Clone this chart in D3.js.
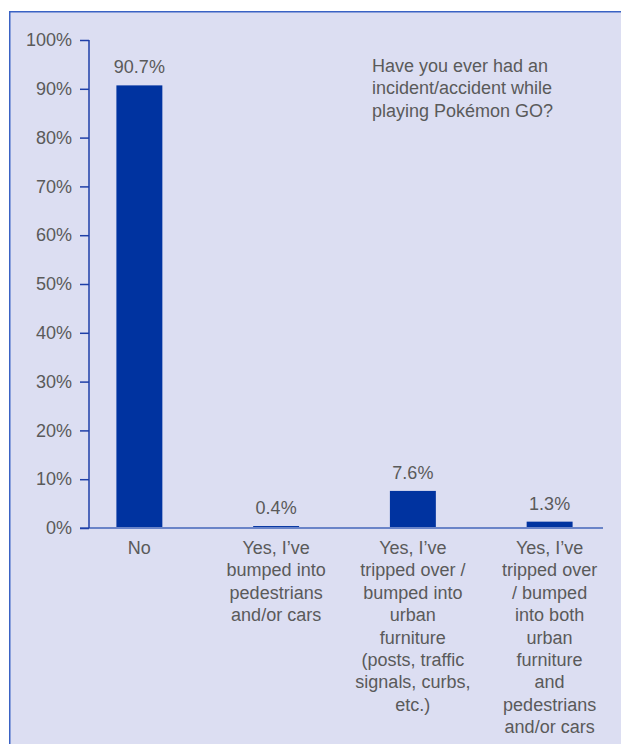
<!DOCTYPE html>
<html>
<head>
<meta charset="utf-8">
<script src="https://cdn.jsdelivr.net/npm/d3@7"></script>
<style>
  html, body { margin: 0; padding: 0; background: #ffffff; }
  svg { display: block; }
  text { font-family: "Liberation Sans", Arial, sans-serif; fill: #5a5a5a; }
</style>
</head>
<body>
<svg id="chart" width="621" height="744"></svg>
<script>
// Survey answers and shares (%)
const categories = [
  ["No"],
  ["Yes, I’ve", "bumped into", "pedestrians", "and/or cars"],
  ["Yes, I’ve", "tripped over /", "bumped into", "urban", "furniture", "(posts, traffic", "signals, curbs,", "etc.)"],
  ["Yes, I’ve", "tripped over", "/ bumped", "into both", "urban", "furniture", "and", "pedestrians", "and/or cars"]
];
const values = [90.7, 0.4, 7.6, 1.3];
const valueLabels = ["90.7%", "0.4%", "7.6%", "1.3%"];
const yTicks = [0, 10, 20, 30, 40, 50, 60, 70, 80, 90, 100];
const titleLines = ["Have you ever had an", "incident/accident while", "playing Pokémon GO?"];

const svg = d3.select("#chart");

// Panel background with top and left rule
svg.append("rect")
  .attr("x", 9).attr("y", 11)
  .attr("width", 640).attr("height", 760)
  .attr("fill", "#dcdef2");
svg.append("path")
  .attr("d", "M9.75,760V11.75H640")
  .attr("fill", "none")
  .attr("stroke", "#3a62c4")
  .attr("stroke-width", 1.5);

const x = d3.scaleBand()
  .domain(d3.range(values.length))
  .range([71, 618])
  .paddingInner(0.664)
  .paddingOuter(0.332);

const y = d3.scaleLinear().domain([0, 100]).range([528, 40]);

// Bars
svg.append("g").selectAll("rect")
  .data(values)
  .join("rect")
  .attr("x", (d, i) => x(i))
  .attr("y", d => y(d))
  .attr("width", x.bandwidth())
  .attr("height", d => y(0) - y(d))
  .attr("fill", "#0033a0");

// X baseline
svg.append("line")
  .attr("x1", 80).attr("x2", 603)
  .attr("y1", y(0)).attr("y2", y(0))
  .attr("stroke", "#6a84c8")
  .attr("stroke-width", 2);

// Y axis
const yAxis = d3.axisLeft(y)
  .tickValues(yTicks)
  .tickFormat(d => d + "%")
  .tickSize(9)
  .tickPadding(8);
const gy = svg.append("g").attr("transform", "translate(89,0)").call(yAxis);
gy.select(".domain").attr("stroke", "#1f3fa8").attr("stroke-width", 1.5).attr("d", "M0,40V528");
gy.selectAll(".tick line").attr("stroke", "#1f3fa8").attr("stroke-width", 1.5);
gy.selectAll(".tick text")
  .attr("font-size", 18)
  .attr("font-family", "Liberation Sans, Arial, sans-serif")
  .attr("fill", "#5a5a5a");

// Value labels
svg.append("g").selectAll("text")
  .data(values)
  .join("text")
  .attr("x", (d, i) => x(i) + x.bandwidth() / 2)
  .attr("y", d => y(d) - 12)
  .attr("text-anchor", "middle")
  .attr("font-size", 18)
  .text((d, i) => valueLabels[i]);

// Category labels
const catG = svg.append("g");
categories.forEach((lines, i) => {
  const t = catG.append("text")
    .attr("x", x(i) + x.bandwidth() / 2)
    .attr("y", 554)
    .attr("text-anchor", "middle")
    .attr("font-size", 18);
  lines.forEach((ln, j) => {
    t.append("tspan")
      .attr("x", x(i) + x.bandwidth() / 2)
      .attr("y", 554 + j * 22.4)
      .text(ln);
  });
});

// Question
const q = svg.append("text").attr("font-size", 18);
titleLines.forEach((ln, j) => {
  q.append("tspan").attr("x", 372).attr("y", 72 + j * 22.4).text(ln);
});
</script>
</body>
</html>
